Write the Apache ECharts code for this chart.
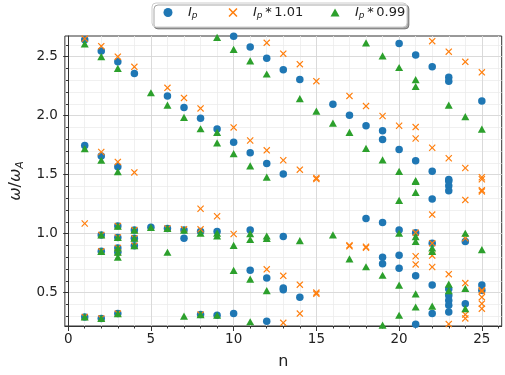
<!DOCTYPE html>
<html>
<head>
  <meta charset="UTF-8">
  <title>omega / omega_A vs n</title>
  <script src="https://cdn.jsdelivr.net/npm/echarts@6/dist/echarts.min.js"></script>
</head>
<body style="margin:0">
  <div id="main" style="width:505px;height:375px;"></div>
  <script>
    // values: [n, [omega/omega_A ...]]
    const ipBase = [
      [1, [2.644, 1.747, 0.294]],
      [2, [2.547, 1.658, 0.989, 0.85, 0.281]],
      [3, [2.456, 1.567, 1.064, 0.967, 0.878, 0.842, 0.322]],
      [4, [2.358, 1.03, 0.961, 0.898]],
      [5, [1.053]],
      [6, [2.167, 1.044]],
      [7, [2.069, 1.03, 0.961]],
      [8, [1.978, 1.017, 0.314]],
      [9, [1.886, 1.017, 0.308]],
      [10, [2.672, 1.775, 0.322]],
      [11, [2.581, 1.686, 1.03, 0.689]],
      [12, [2.486, 1.594, 0.623, 0.258]],
      [13, [2.389, 1.506, 0.975, 0.539, 0.525]],
      [14, [2.306, 0.461]],
      [16, [2.097]],
      [17, [2.003]],
      [18, [1.914, 1.128]],
      [19, [1.872, 1.797, 1.094, 0.80, 0.744]],
      [20, [2.611, 1.714, 1.03, 0.817, 0.706]],
      [21, [2.514, 1.617, 1.008, 0.642, 0.231]],
      [22, [2.414, 1.528, 1.294, 0.919, 0.564, 0.322]],
      [23, [2.325, 2.292, 1.458, 1.447, 1.406, 1.364, 0.53, 0.475, 0.433, 0.392, 0.336]],
      [24, [0.933, 0.406]],
      [25, [2.125, 0.564, 0.52]]
    ]

    const ipUp = [
      [1, [2.652, 1.086, 0.294]],
      [2, [2.589, 1.692, 0.989, 0.85, 0.281]],
      [3, [2.50, 1.608, 1.064, 0.967, 0.878, 0.842, 0.322]],
      [4, [2.414, 1.519, 1.03, 0.961, 0.898]],
      [6, [2.236, 1.044]],
      [7, [2.15, 1.036]],
      [8, [2.061, 1.211, 1.036, 0.314]],
      [9, [1.147]],
      [10, [1.90, 0.997]],
      [11, [1.789]],
      [12, [2.617, 1.706, 0.697]],
      [13, [2.525, 1.622, 0.642, 0.244]],
      [14, [2.436, 1.542, 0.567, 0.322]],
      [15, [2.292, 1.472, 1.462, 0.50, 0.49]],
      [17, [2.167, 0.901, 0.893]],
      [18, [2.081, 0.889, 0.881]],
      [19, [1.997]],
      [20, [1.914]],
      [21, [1.903, 1.806, 1.008, 0.808, 0.739]],
      [22, [2.631, 1.728, 1.161, 0.919, 0.814, 0.717]],
      [23, [2.542, 1.639, 0.656, 0.233]],
      [24, [2.456, 1.556, 1.286, 0.961, 0.581, 0.314, 0.281]],
      [25, [2.367, 1.478, 1.461, 1.368, 1.358, 0.52, 0.51, 0.461, 0.406, 0.364]]
    ]

    const ipDown = [
      [1, [2.608, 1.72, 0.294]],
      [2, [2.50, 1.622, 0.989, 0.85, 0.281]],
      [3, [2.40, 1.525, 1.064, 0.967, 0.878, 0.842, 0.80, 0.322]],
      [4, [1.03, 0.961, 0.898]],
      [5, [2.194, 1.053]],
      [6, [2.089, 1.044, 0.842]],
      [7, [1.986, 1.03, 0.30]],
      [8, [1.889, 1.004, 0.314]],
      [9, [2.664, 1.858, 1.769, 1.004, 0.98, 0.308]],
      [10, [2.561, 1.678, 0.90, 0.689]],
      [11, [2.464, 1.575, 1.0, 0.95, 0.614, 0.253]],
      [12, [2.353, 1.478, 0.98, 0.96, 0.517]],
      [14, [2.144, 0.94]],
      [15, [2.039]],
      [16, [1.936, 0.989]],
      [17, [1.858, 0.786]],
      [18, [2.617, 1.722, 0.719]],
      [19, [2.506, 1.625, 0.647, 0.225]],
      [20, [2.408, 1.528, 1.281, 1.003, 0.564, 0.308]],
      [21, [2.306, 2.247, 1.45, 1.442, 1.35, 0.975, 0.933, 0.489, 0.378]],
      [22, [0.878, 0.85, 0.386]],
      [23, [2.089, 0.572, 0.517]],
      [24, [1.992, 1.003, 0.536, 0.364]],
      [25, [1.886, 0.864]]
    ]

    const xMajor = [0, 5, 10, 15, 20, 25]
    const xMinor = [0, 1, 2, 3, 4, 5, 6, 7, 8, 9, 10, 11, 12, 13, 14, 15, 16, 17, 18, 19, 20, 21, 22, 23, 24, 25, 26]
    const yMajor = [0.5, 1.0, 1.5, 2.0, 2.5]
    const yMinor = [0.3, 0.4, 0.5, 0.6, 0.7, 0.8, 0.9, 1.0, 1.1, 1.2, 1.3, 1.4, 1.5, 1.6, 1.7, 1.8, 1.9, 2.0, 2.1, 2.2, 2.3, 2.4, 2.5, 2.6]

    const toPoints = rows => rows.flatMap(([n, vals]) => vals.map(v => [n, v]))

    const crossPath = 'path://M0,1.2L1.2,0L5,3.8L8.8,0L10,1.2L6.2,5L10,8.8L8.8,10L5,6.2L1.2,10L0,8.8L3.8,5Z'
    const trianglePath = 'path://M5,0L10,9L0,9Z'
    const font = 'DejaVu Sans'
    const axisColor = '#333'
    const thin = '\u2009'

    const legendNames = {
      base: '{g| }{i|I}{s|p}',
      up: '{g| }{i|I}{s|p}{t|' + thin + '*' + thin + '1.01}',
      down: '{g| }{i|I}{s|p}{t|' + thin + '*' + thin + '0.99}'
    }

    // one legend per series so each entry sits where the reference has it
    const legendAt = (name, left) => ({
      left: left, top: 6, z: 5,
      itemWidth: 9, itemHeight: 9, padding: 0,
      formatter: n => legendNames[n],
      textStyle: {
        fontFamily: font, fontSize: 13, color: '#222',
        rich: {
          g: { width: 10.5 },
          i: { fontFamily: font, fontStyle: 'italic', fontSize: 13, color: '#222' },
          s: { fontFamily: font, fontStyle: 'italic', fontSize: 9, color: '#222', padding: [7, 0, 0, 0] },
          t: { fontFamily: font, fontSize: 13, color: '#222' }
        }
      },
      data: [name]
    })

    const chart = echarts.init(document.getElementById('main'))

    const option = {
      animation: false,
      textStyle: { fontFamily: font },
      graphic: [{
        type: 'rect', z: 4, silent: true,
        shape: { x: 152, y: 3, width: 255, height: 24, r: 4 },
        style: {
          fill: '#fff', stroke: '#cccccc', lineWidth: 1,
          shadowColor: 'rgba(0,0,0,0.35)', shadowBlur: 0, shadowOffsetX: 2, shadowOffsetY: 2
        }
      }],
      grid: {
        left: 55, right: 3.3, top: 36, bottom: 44,
        show: true, borderColor: axisColor, borderWidth: 1, backgroundColor: 'transparent'
      },
      legend: [
        legendAt('base', 163.5),
        legendAt('up', 228.5),
        legendAt('down', 330.5)
      ],
      xAxis: [
        {
          type: 'value', min: -0.2, max: 26.2, position: 'bottom', z: 1,
          name: 'n', nameLocation: 'middle', nameGap: 28,
          nameTextStyle: { fontFamily: font, fontSize: 16, color: '#222' },
          axisLine: { show: true, lineStyle: { color: axisColor } },
          axisTick: { show: true, length: 5, customValues: xMajor, lineStyle: { color: axisColor } },
          axisLabel: { customValues: xMajor, fontFamily: font, fontSize: 13.5, color: '#222', margin: 6 },
          splitLine: { show: true, lineStyle: { color: '#d6d6d6', width: 0.8 } }
        },
        {
          type: 'value', min: -0.2, max: 26.2, position: 'bottom', z: 0,
          axisLine: { show: false },
          axisTick: { show: true, length: 2.5, customValues: xMinor, lineStyle: { color: axisColor } },
          axisLabel: { show: false },
          splitLine: { show: true, lineStyle: { color: '#ececec', width: 0.8 } }
        }
      ],
      yAxis: [
        {
          type: 'value', min: 0.217, max: 2.675, position: 'left', z: 1,
          name: '{w|ω}/{w|ω}{s|A}', nameLocation: 'middle', nameGap: 37, nameRotate: 90,
          nameTextStyle: {
            fontFamily: font, fontSize: 16, color: '#222',
            rich: {
              w: { fontFamily: font, fontStyle: 'italic', fontSize: 16, color: '#222' },
              s: { fontFamily: font, fontStyle: 'italic', fontSize: 11, color: '#222', padding: [8, 0, 0, 0] }
            }
          },
          axisLine: { show: true, lineStyle: { color: axisColor } },
          axisTick: { show: true, length: 5, customValues: yMajor, lineStyle: { color: axisColor } },
          axisLabel: {
            customValues: yMajor, fontFamily: font, fontSize: 13.5, color: '#222', margin: 7,
            formatter: v => v.toFixed(1)
          },
          splitLine: { show: true, lineStyle: { color: '#d6d6d6', width: 0.8 } }
        },
        {
          type: 'value', min: 0.217, max: 2.675, position: 'left', z: 0,
          axisLine: { show: false },
          axisTick: { show: true, length: 2.5, customValues: yMinor, lineStyle: { color: axisColor } },
          axisLabel: { show: false },
          splitLine: { show: true, lineStyle: { color: '#ececec', width: 0.8 } }
        }
      ],
      series: [
        {
          name: 'base', type: 'scatter', symbol: 'circle', symbolSize: 7.5,
          itemStyle: { color: '#1f77b4', opacity: 1 },
          data: toPoints(ipBase)
        },
        {
          name: 'up', type: 'scatter', symbol: crossPath, symbolSize: 7, symbolKeepAspect: true,
          itemStyle: { color: '#ff7f0e', opacity: 1 },
          data: toPoints(ipUp)
        },
        {
          name: 'down', type: 'scatter', symbol: trianglePath, symbolSize: 8, symbolKeepAspect: true,
          itemStyle: { color: '#2ca02c', opacity: 1 },
          data: toPoints(ipDown)
        }
      ]
    }

    chart.setOption(option)
  </script>
</body>
</html>
